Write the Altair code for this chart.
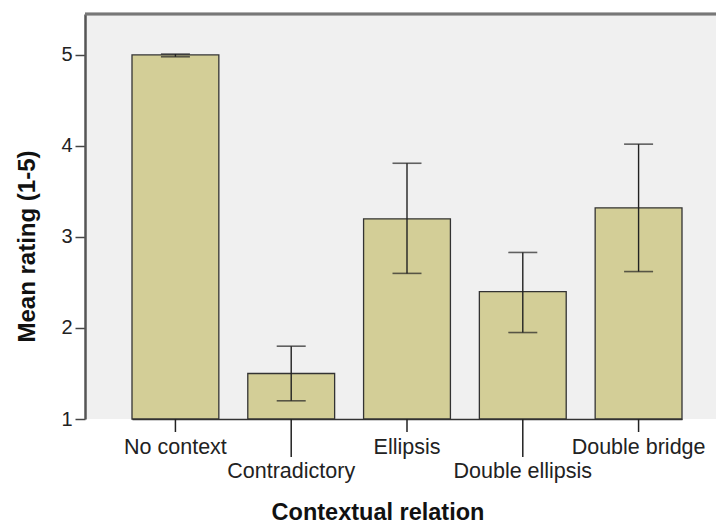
import altair as alt
import pandas as pd

categories = ["No context", "Contradictory", "Ellipsis", "Double ellipsis", "Double bridge"]
means = [5.0, 1.5, 3.2, 2.4, 3.32]
ci_low = [4.98, 1.2, 2.6, 1.95, 2.62]
ci_high = [5.01, 1.8, 3.81, 2.83, 4.02]
label_row = [0, 1, 0, 1, 0]
y_ticks = [1, 2, 3, 4, 5]

df = pd.DataFrame({
    "cat": categories,
    "mean": means,
    "lo": ci_low,
    "hi": ci_high,
    "row": label_row,
})

FONT = "Liberation Sans"
PLOT_W = 631
X = alt.X(
    "cat:N",
    sort=categories,
    scale=alt.Scale(range=[47, 597], paddingInner=0.25, paddingOuter=0),
    axis=alt.Axis(
        labels=False, ticks=False, domain=True, domainColor="#333", domainWidth=1.5,
        title="Contextual relation", titleFont=FONT, titleFontSize=23.5,
        titleFontWeight="bold", titleColor="#111",
        titleX=292.5, titleY=100, titleAlign="center", titleBaseline="alphabetic",
    ),
)

Y = alt.Y(
    "mean:Q",
    scale=alt.Scale(domain=[1, 5.45], nice=False, zero=False),
    axis=alt.Axis(
        values=y_ticks, format="d", tickSize=10, tickColor="#444", tickWidth=1.5,
        labelFont=FONT, labelFontSize=20, labelColor="#222", labelPadding=3,
        domainColor="#555", domainWidth=2.5, grid=False,
        title="Mean rating (1-5)", titleFont=FONT, titleFontSize=24,
        titleFontWeight="bold", titleColor="#111",
        titleX=-51, titleY=232, titleAlign="center", titleBaseline="alphabetic",
        titleAngle=270,
    ),
)

base = alt.Chart(df)

top_border = base.transform_filter("datum.row == 0").mark_rule(color="#777", strokeWidth=2.5).encode(
    x=alt.value(0), x2=alt.value(PLOT_W), y=alt.value(0)
)

bars = base.mark_bar(fill="#D3CE97", stroke="#333", strokeWidth=1.3).encode(
    x=X, y=Y, y2=alt.datum(1)
)

err = base.mark_rule(color="#222", strokeWidth=1.4).encode(
    x=alt.X("cat:N", sort=categories), y=alt.Y("lo:Q"), y2="hi:Q"
)
cap_lo = base.mark_tick(color="#222", size=29, thickness=1.6, orient="horizontal").encode(
    x=alt.X("cat:N", sort=categories), y=alt.Y("lo:Q")
)
cap_hi = base.mark_tick(color="#222", size=29, thickness=1.6, orient="horizontal").encode(
    x=alt.X("cat:N", sort=categories), y=alt.Y("hi:Q")
)

tick_short = base.transform_filter("datum.row == 0").mark_rule(color="#222", strokeWidth=1.5).encode(
    x=alt.X("cat:N", sort=categories), y=alt.value(405), y2=alt.value(418)
)
tick_long = base.transform_filter("datum.row == 1").mark_rule(color="#222", strokeWidth=1.5).encode(
    x=alt.X("cat:N", sort=categories), y=alt.value(405), y2=alt.value(443)
)

lab_top = base.transform_filter("datum.row == 0").mark_text(
    font=FONT, fontSize=21.5, color="#222", baseline="alphabetic", align="center"
).encode(x=alt.X("cat:N", sort=categories), y=alt.value(440), text="cat:N")
lab_bot = base.transform_filter("datum.row == 1").mark_text(
    font=FONT, fontSize=21.5, color="#222", baseline="alphabetic", align="center"
).encode(x=alt.X("cat:N", sort=categories), y=alt.value(464), text="cat:N")

chart = alt.layer(top_border, bars, err, cap_lo, cap_hi, tick_short, tick_long, lab_top, lab_bot).properties(
    width=PLOT_W,
    height=405,
    autosize=alt.AutoSizeParams(type="none"),
    padding={"left": 77, "top": 6, "right": 0, "bottom": 104},
    background="white",
).configure_view(
    fill="#F0F0F0", strokeWidth=0
)

chart.save("out.html", embed_options={"renderer": "svg", "actions": False})
